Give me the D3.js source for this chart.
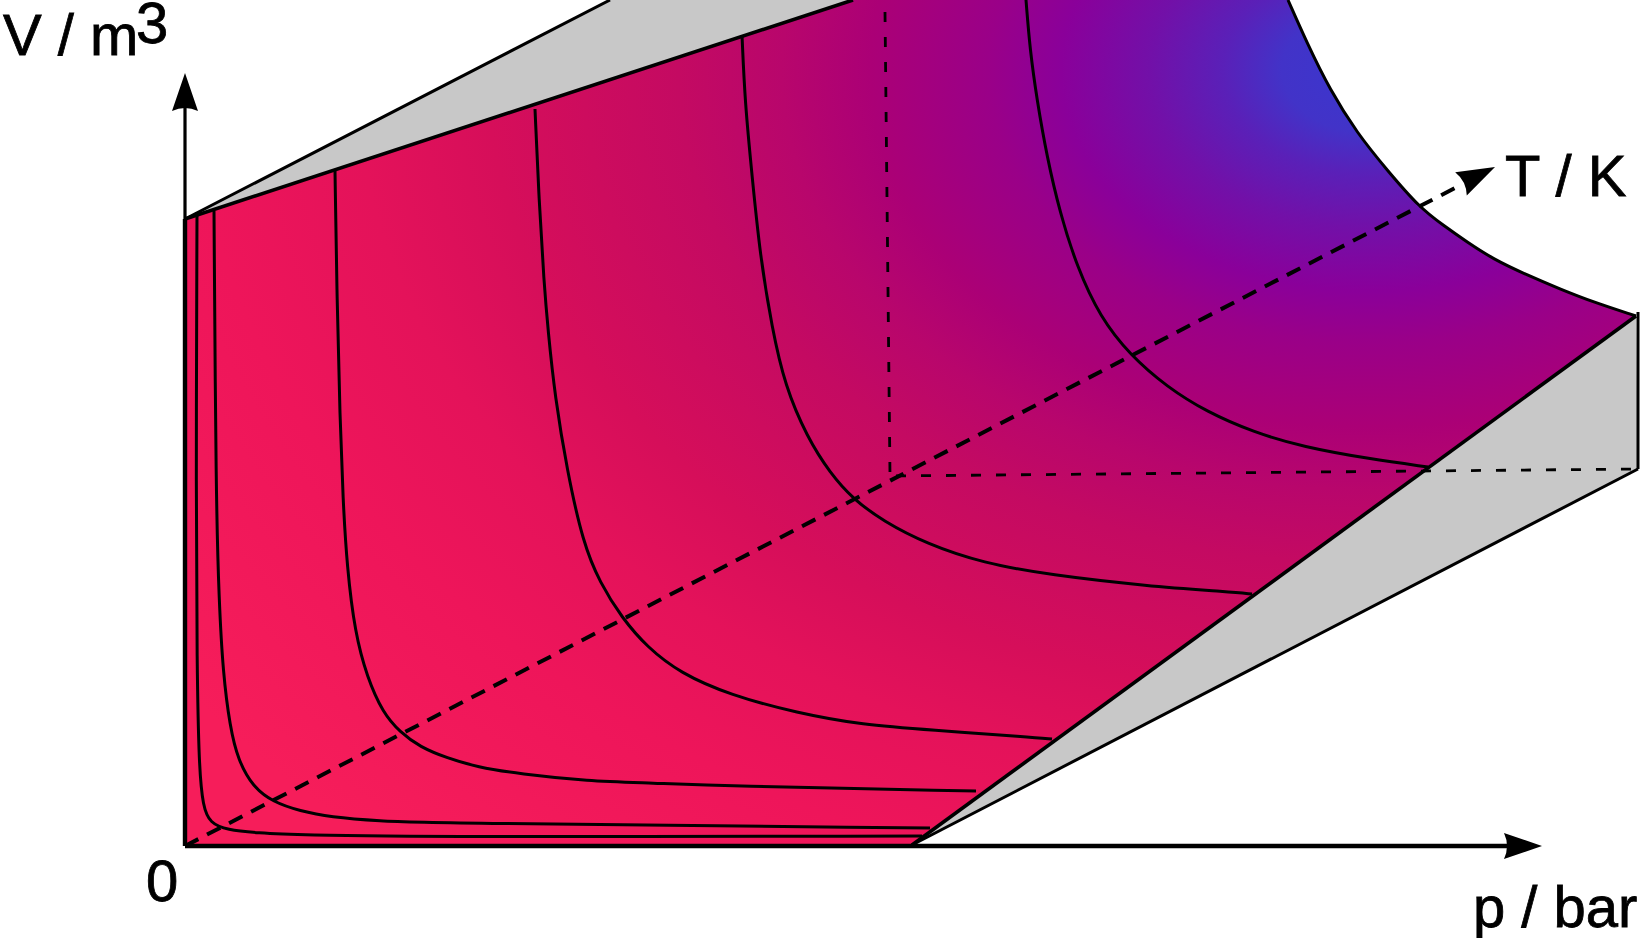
<!DOCTYPE html>
<html>
<head>
<meta charset="utf-8">
<script src="https://cdn.jsdelivr.net/npm/d3@7"></script>
<style>
  html, body { margin: 0; padding: 0; background: #fff; overflow: hidden; }
  svg { display: block; }
  text { font-family: "Liberation Sans", Arial, sans-serif; font-size: 58px; fill: #000; stroke: #000; stroke-width: 0.8px; }
</style>
</head>
<body>
<div id="chart"></div>
<script>
// values, p and V in plot units
const isoAp = [1.2, 1.1, 1.2, 1.4, 1.8, 2.5, 4.2, 7.2, 11.5, 24.5, 73.7];
const isoAv = [63.4, 34.6, 17.9, 7.9, 3.9, 2.3, 1.6, 1.3, 1.1, 0.9, 1.0];
const isoBp = [2.9, 3.1, 3.4, 3.8, 4.5, 5.3, 6.8, 8.8, 11.5, 14.5, 19.5, 24.5, 74.5];
const isoBv = [63.5, 34.6, 24.6, 17.3, 11.9, 8.6, 5.9, 4.4, 3.5, 2.9, 2.5, 2.3, 1.8];
const isoCp = [15.0, 15.2, 15.5, 15.8, 16.2, 17.0, 18.2, 19.8, 21.5, 23.5, 26.2, 29.2, 33.5, 40.2, 46.8, 53.5, 79.1];
const isoCv = [67.5, 54.6, 42.7, 34.6, 27.9, 21.3, 16.9, 13.3, 11.4, 9.9, 8.8, 7.9, 7.2, 6.5, 6.3, 6.0, 5.5];
const isoDp = [35.0, 35.4, 35.9, 36.3, 37.0, 38.2, 39.8, 41.5, 43.7, 46.2, 49.5, 54.5, 61.2, 67.8, 74.5, 84.5, 86.7];
const isoDv = [73.7, 64.6, 56.3, 51.6, 44.9, 37.6, 30.3, 26.3, 22.8, 19.9, 17.3, 15.1, 13.3, 12.1, 11.6, 10.9, 10.7];
const isoEp = [55.7, 56.0, 56.7, 57.5, 58.7, 60.0, 62.2, 64.5, 66.8, 69.8, 74.2, 79.8, 86.5, 96.2, 104.5, 106.7];
const isoEv = [81.1, 74.3, 67.1, 59.1, 51.8, 46.0, 40.9, 37.3, 34.7, 32.5, 30.2, 28.3, 27.1, 26.0, 25.4, 25.2];
const isoFp = [84.1, 84.5, 85.2, 86.2, 87.5, 89.2, 91.5, 94.5, 98.2, 102.2, 106.8, 111.8, 118.5, 124.3];
const isoFv = [84.6, 79.6, 74.6, 68.9, 63.3, 57.9, 52.9, 49.1, 45.9, 43.4, 41.4, 39.9, 38.7, 37.9];
// outer isotherm, closes the surface on the far side
const edgeP = [110.3, 112.2, 114.5, 117.2, 120.2, 123.5, 125.8, 128.2, 130.8, 134.2, 137.5, 140.8, 145.1];
const edgeV = [84.6, 80.3, 75.6, 71.3, 67.6, 63.8, 62.1, 60.4, 58.7, 57.1, 55.7, 54.4, 53.0];

const topWedge = [[0, 62.7], [42.5, 84.6], [66.8, 84.6]];
const rightWedge = [[72.7, 0.1], [145.1, 53.0], [145.3, 37.7]];
const tAxisEnd = [127.0, 65.8];
const backCorner = [70.5, 37.0];
const backTop = [70.0, 83.4];
const pAxisEnd = 135.7;
const vAxisEnd = 77.3;

const stopOffsets = [0, 0.06, 0.1, 0.15, 0.21, 0.26, 0.34, 0.4, 0.47, 0.6, 0.69, 0.8, 1];
const stopColors = ["#3a36cf", "#4233c8", "#5a20b8", "#7210a8", "#8a009a", "#9a0088", "#ab0076", "#b8066c", "#c40a62", "#d60e5a", "#e4125a", "#ee155a", "#f61d5a"];

const width = 1641;
const height = 938;

const zip = (xs, ys) => xs.map((x, i) => [x, ys[i]]);
const isotherms = [
  zip(isoAp, isoAv),
  zip(isoBp, isoBv),
  zip(isoCp, isoCv),
  zip(isoDp, isoDv),
  zip(isoEp, isoEv),
  zip(isoFp, isoFv),
];
const edge = zip(edgeP, edgeV);

const xScale = d3.scaleLinear().domain([0, pAxisEnd]).range([185, 1542]);
const yScale = d3.scaleLinear().domain([0, vAxisEnd]).range([846, 73]);

const curve = d3
  .line()
  .x((d) => xScale(d[0]))
  .y((d) => yScale(d[1]))
  .curve(d3.curveBasis);
const straight = d3
  .line()
  .x((d) => xScale(d[0]))
  .y((d) => yScale(d[1]));

const svg = d3
  .select("#chart")
  .append("svg")
  .attr("width", width)
  .attr("height", height);

const grad = svg
  .append("defs")
  .append("radialGradient")
  .attr("id", "surfaceFill")
  .attr("gradientUnits", "userSpaceOnUse")
  .attr("cx", 0)
  .attr("cy", 0)
  .attr("r", 1050)
  .attr("gradientTransform", "translate(1370,70) scale(1.4,1)");
grad
  .selectAll("stop")
  .data(stopOffsets)
  .enter()
  .append("stop")
  .attr("offset", (d) => d)
  .attr("stop-color", (d, i) => stopColors[i]);

// gray side faces
svg
  .selectAll(".wedge")
  .data([topWedge, rightWedge])
  .enter()
  .append("path")
  .attr("class", "wedge")
  .attr("d", (d) => straight(d) + "Z")
  .attr("fill", "#c8c8c8")
  .attr("stroke", "none");

// surface, built from its outline
const outline =
  straight([[0, 0], [0, 62.7], [66.8, 84.6]]) +
  curve(edge).replace("M", "L") +
  straight([[145.1, 53.0], [72.7, 0.1]]).replace("M", "L") +
  "Z";
svg.append("path").attr("d", outline).attr("fill", "url(#surfaceFill)");

// back edges, dashed
svg
  .selectAll(".back")
  .data([
    [backTop, backCorner],
    [backCorner, [145.3, 37.7]],
  ])
  .enter()
  .append("path")
  .attr("class", "back")
  .attr("d", straight)
  .attr("fill", "none")
  .attr("stroke", "#000")
  .attr("stroke-width", 2.8)
  .attr("stroke-dasharray", "10 15")
  .attr("stroke-dashoffset", (d, i) => (i === 1 ? -6 : 0));

// isotherms
svg
  .selectAll(".iso")
  .data(isotherms.concat([edge]))
  .enter()
  .append("path")
  .attr("class", "iso")
  .attr("d", curve)
  .attr("fill", "none")
  .attr("stroke", "#000")
  .attr("stroke-width", 3);

// wedge and surface borders
svg
  .selectAll(".border")
  .data([
    [[0, 62.7], [42.5, 84.6]],
    [[0, 62.7], [66.8, 84.6]],
    [[72.7, 0.1], [145.1, 53.0]],
    [[72.7, 0.1], [145.3, 37.7]],
    [[145.3, 53.4], [145.3, 37.7]],
  ])
  .enter()
  .append("path")
  .attr("class", "border")
  .attr("d", straight)
  .attr("fill", "none")
  .attr("stroke", "#000")
  .attr("stroke-width", (d, i) => (i === 2 || i === 1 ? 3.6 : 3));

// T axis
svg
  .append("path")
  .attr("d", straight([[0, 0], tAxisEnd]))
  .attr("fill", "none")
  .attr("stroke", "#000")
  .attr("stroke-width", 4)
  .attr("stroke-dasharray", "15 9.82");

// p and V axes, the V axis is heavier along the surface
svg
  .append("path")
  .attr("d", straight([[0, 0], [pAxisEnd - 3, 0]]))
  .attr("fill", "none")
  .attr("stroke", "#000")
  .attr("stroke-width", 4.4);
svg
  .append("path")
  .attr("d", straight([[0, 0], [0, 62.7]]))
  .attr("fill", "none")
  .attr("stroke", "#000")
  .attr("stroke-width", 4.4);
svg
  .append("path")
  .attr("d", straight([[0, 62.7], [0, vAxisEnd - 3]]))
  .attr("fill", "none")
  .attr("stroke", "#000")
  .attr("stroke-width", 3.2);

function arrowHead(tip, angle) {
  svg
    .append("path")
    .attr("d", "M0,0L-38,-13Q-32,0 -38,13Z")
    .attr(
      "transform",
      "translate(" + xScale(tip[0]) + "," + yScale(tip[1]) + ") rotate(" + angle + ")"
    )
    .attr("fill", "#000");
}
arrowHead([pAxisEnd, 0], 0);
arrowHead([0, vAxisEnd], -90);
arrowHead([131.0, 67.9], -26.5);

// labels
svg.append("text").attr("x", 3).attr("y", 55).text("V / m");
svg.append("text").attr("x", 136).attr("y", 43).text("3");
svg.append("text").attr("x", 146).attr("y", 901).text("0");
svg.append("text").attr("x", 1473).attr("y", 927).text("p / bar");
svg.append("text").attr("x", 1505).attr("y", 196).text("T / K");
</script>
</body>
</html>
